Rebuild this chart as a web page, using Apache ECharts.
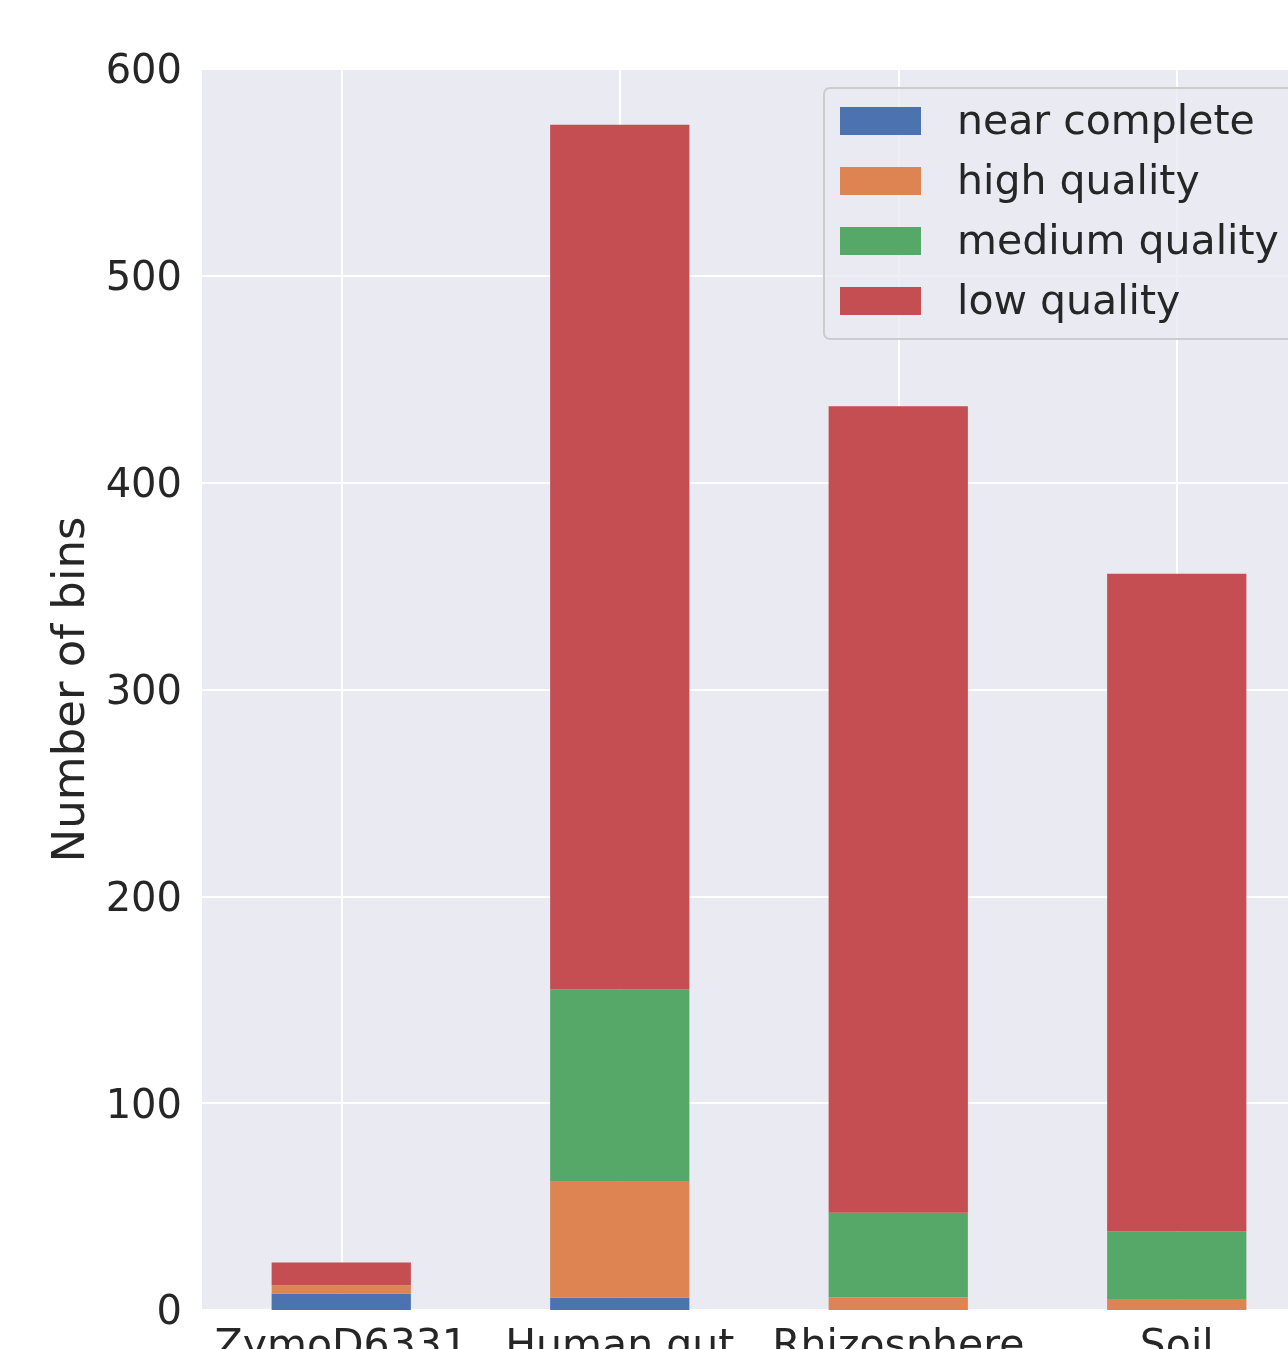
<!DOCTYPE html>
<html>
<head>
<meta charset="utf-8">
<script src="https://cdn.jsdelivr.net/npm/echarts@6/dist/echarts.min.js"></script>
<style>
html,body{margin:0;padding:0;background:#fff;overflow:hidden;}
#chart{width:1288px;height:1349px;}
</style>
</head>
<body>
<div id="chart"></div>
<script>
const categories = ['ZymoD6331', 'Human gut', 'Rhizosphere', 'Soil'];
const nearComplete = [8, 6, 0, 0];
const highQuality = [4, 56, 6, 5];
const mediumQuality = [0, 93, 41, 33];
const lowQuality = [11, 418, 390, 318];
const yTicks = [0, 100, 200, 300, 400, 500, 600];

const seriesNames = ['near complete', 'high quality', 'medium quality', 'low quality'];
const seriesData = [nearComplete, highQuality, mediumQuality, lowQuality];
const colors = ['#4C72B0', '#DD8452', '#55A868', '#C44E52'];

const FONT = 'DejaVu Sans';
const chart = echarts.init(document.getElementById('chart'));
chart.setOption({
  backgroundColor: '#ffffff',
  animation: false,
  textStyle: { fontFamily: FONT },
  grid: { left: 202, top: 69, width: 1114, height: 1241, backgroundColor: '#EAEAF2', show: true, borderWidth: 0, containLabel: false, outerBoundsMode: 'none' },
  legend: {
    orient: 'vertical',
    left: 824, top: 88,
    data: seriesNames,
    itemWidth: 81, itemHeight: 28, itemGap: 17,
    icon: 'rect',
    padding: [13, 40, 15, 16],
    backgroundColor: 'rgba(234,234,242,0.8)',
    borderColor: '#cccccc', borderWidth: 2, borderRadius: 6,
    formatter: n => '{t|' + n + '}',
    textStyle: {
      fontFamily: FONT, fontSize: 41, lineHeight: 40, color: '#262626', padding: [0, 0, 0, 31],
      rich: { t: { fontFamily: FONT, fontSize: 41, color: '#262626', padding: [5, 0, 0, 0] } }
    }
  },
  xAxis: {
    type: 'category',
    data: categories,
    axisLine: { show: false },
    axisTick: { show: false },
    axisLabel: { fontFamily: FONT, fontSize: 41, color: '#262626', margin: 17, interval: 0, hideOverlap: false },
    splitLine: { show: true, interval: 0, alignWithLabel: true, lineStyle: { color: '#ffffff', width: 2 } }
  },
  yAxis: {
    type: 'value',
    min: yTicks[0], max: yTicks[yTicks.length - 1], interval: 100,
    name: 'Number of bins',
    nameLocation: 'middle',
    nameGap: 106,
    nameTextStyle: { fontFamily: FONT, fontSize: 45, color: '#262626' },
    axisLine: { show: false },
    axisTick: { show: false },
    axisLabel: {
      fontFamily: FONT, fontSize: 40, color: '#262626', margin: 20,
      formatter: v => '{t|' + v + '}',
      rich: { t: { fontFamily: FONT, fontSize: 40, color: '#262626', padding: [8, 0, 0, 0] } }
    },
    splitLine: { show: true, lineStyle: { color: '#ffffff', width: 2 } }
  },
  series: seriesNames.map((n, i) => ({
    name: n,
    type: 'bar',
    stack: 'total',
    barWidth: '50%',
    data: seriesData[i],
    itemStyle: { color: colors[i] }
  }))
});
</script>
</body>
</html>
